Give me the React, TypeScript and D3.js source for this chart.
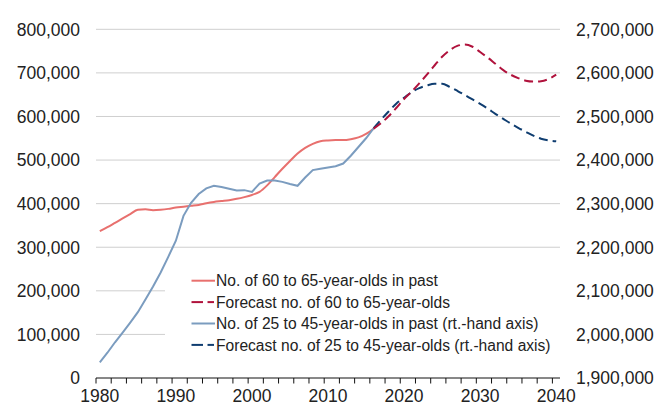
import { useMemo } from "react";
import { scaleLinear, line as d3Line, curveMonotoneX, format, range } from "d3";

// Left axis: people aged 60-65 (thousands -> persons)
const pastYears60 = range(1980, 2017);
const past60 = [
  337, 346, 356, 366, 376, 386, 387, 385, 386, 388, 391, 393, 395, 397, 401, 404, 406, 408, 411, 415,
  420, 427, 442, 461, 480, 498, 515, 528, 537, 543, 545, 546, 546, 548, 552, 560, 572,
];
const forecastYears = range(2016, 2041);
const forecast60 = [
  572, 585, 601, 620, 640, 657, 676, 696, 717, 737, 752, 762, 765, 760, 748, 735, 721, 707, 696, 688,
  682, 680, 681, 686, 696,
];

// Right axis: people aged 25-45
const pastYears25 = range(1980, 2017);
const past25 = [
  1936, 1958, 1982, 2004, 2027, 2051, 2080, 2110, 2142, 2178, 2215, 2272, 2302, 2322, 2335, 2341, 2338,
  2334, 2330, 2331, 2327, 2346, 2353, 2353, 2350, 2345, 2341, 2360, 2377, 2380, 2383, 2386, 2392, 2410,
  2430, 2450, 2473,
];
const forecast25 = [
  2473, 2493, 2512, 2530, 2543, 2556, 2565, 2571, 2575, 2575, 2568, 2559, 2549, 2539, 2529, 2518, 2506,
  2495, 2484, 2474, 2465, 2456, 2449, 2445, 2443,
];

const leftTicks = [0, 100000, 200000, 300000, 400000, 500000, 600000, 700000, 800000];
const rightTicks = [1900000, 2000000, 2100000, 2200000, 2300000, 2400000, 2500000, 2600000, 2700000];
const yearLabels = [1980, 1990, 2000, 2010, 2020, 2030, 2040];

const legendItems = [
  { label: "No. of 60 to 65-year-olds in past", color: "#e8706e", dashed: false },
  { label: "Forecast no. of 60 to 65-year-olds", color: "#b0123c", dashed: true },
  { label: "No. of 25 to 45-year-olds in past (rt.-hand axis)", color: "#7b9cbf", dashed: false },
  { label: "Forecast no. of 25 to 45-year-olds (rt.-hand axis)", color: "#0f3d70", dashed: true },
];

const W = 658;
const H = 406;
const PLOT = { left: 96, right: 560, top: 29.3, bottom: 378 };
const FONT = "'Liberation Sans', Arial, Helvetica, sans-serif";

export default function App() {
  const x = useMemo(() => scaleLinear().domain([1979.5, 2040.5]).range([PLOT.left, PLOT.right]), []);
  const yL = useMemo(() => scaleLinear().domain([0, 800000]).range([PLOT.bottom, PLOT.top]), []);
  const yR = useMemo(() => scaleLinear().domain([1900000, 2700000]).range([PLOT.bottom, PLOT.top]), []);
  const fmt = format(",");

  const smooth = (ys: number[], xs: number[], y: (v: number) => number) =>
    d3Line<number>()
      .curve(curveMonotoneX)
      .x((_, i) => x(xs[i]))
      .y((v) => y(v * 1000))(ys) ?? "";
  const straight = (ys: number[], xs: number[], y: (v: number) => number) =>
    d3Line<number>()
      .x((_, i) => x(xs[i]))
      .y((v) => y(v * 1000))(ys) ?? "";

  const minorTicks = range(1979.5, 2040, 2);

  return (
    <svg
      width={W}
      height={H}
      style={{ position: "absolute", left: 0, top: 0, background: "#fff" }}
      fontFamily={FONT}
    >
      {/* gridlines */}
      {leftTicks.slice(1).map((t) => (
        <line key={t} x1={PLOT.left} x2={PLOT.right} y1={yL(t)} y2={yL(t)} stroke="#cfcfcf" strokeWidth={1} />
      ))}

      {/* legend background */}
      <rect x={165} y={262} width={PLOT.right - 165} height={96} fill="#fff" />

      {/* series */}
      <path d={smooth(past60, pastYears60, yL)} fill="none" stroke={legendItems[0].color} strokeWidth={2} />
      <path d={straight(past25, pastYears25, yR)} fill="none" stroke={legendItems[2].color} strokeWidth={2} />
      <path
        d={smooth(forecast25, forecastYears, yR)}
        fill="none"
        stroke={legendItems[3].color}
        strokeWidth={2}
        strokeDasharray="9,5"
      />
      <path
        d={smooth(forecast60, forecastYears, yL)}
        fill="none"
        stroke={legendItems[1].color}
        strokeWidth={2}
        strokeDasharray="9,5"
      />

      {/* x axis */}
      <line x1={PLOT.left} x2={PLOT.right} y1={PLOT.bottom} y2={PLOT.bottom} stroke="#111" strokeWidth={1} />
      {minorTicks.map((t) => (
        <line key={t} x1={x(t)} x2={x(t)} y1={PLOT.bottom} y2={PLOT.bottom + 5.5} stroke="#111" strokeWidth={1} />
      ))}
      {yearLabels.map((yr) => (
        <text key={yr} x={x(yr)} y={402} textAnchor="middle" fontSize={17.5} fill="#222">
          {yr}
        </text>
      ))}

      {/* left axis labels */}
      {leftTicks.map((t) => (
        <text key={t} x={80} y={yL(t) + 6.3} textAnchor="end" fontSize={17.5} fill="#222">
          {fmt(t)}
        </text>
      ))}

      {/* right axis labels */}
      {rightTicks.map((t) => (
        <text key={t} x={576} y={yR(t) + 6.3} textAnchor="start" fontSize={17.5} fill="#222">
          {fmt(t)}
        </text>
      ))}

      {/* legend */}
      {legendItems.map((d, i) => {
        const cy = 280.7 + i * 21.4;
        return (
          <g key={d.label}>
            {d.dashed ? (
              <>
                <line x1={191.5} x2={203} y1={cy} y2={cy} stroke={d.color} strokeWidth={2} />
                <line x1={207.5} x2={214} y1={cy} y2={cy} stroke={d.color} strokeWidth={2} />
              </>
            ) : (
              <line x1={191.5} x2={215} y1={cy} y2={cy} stroke={d.color} strokeWidth={2} />
            )}
            <text x={216} y={cy + 5.6} fontSize={15.6} fill="#222">
              {d.label}
            </text>
          </g>
        );
      })}
    </svg>
  );
}
